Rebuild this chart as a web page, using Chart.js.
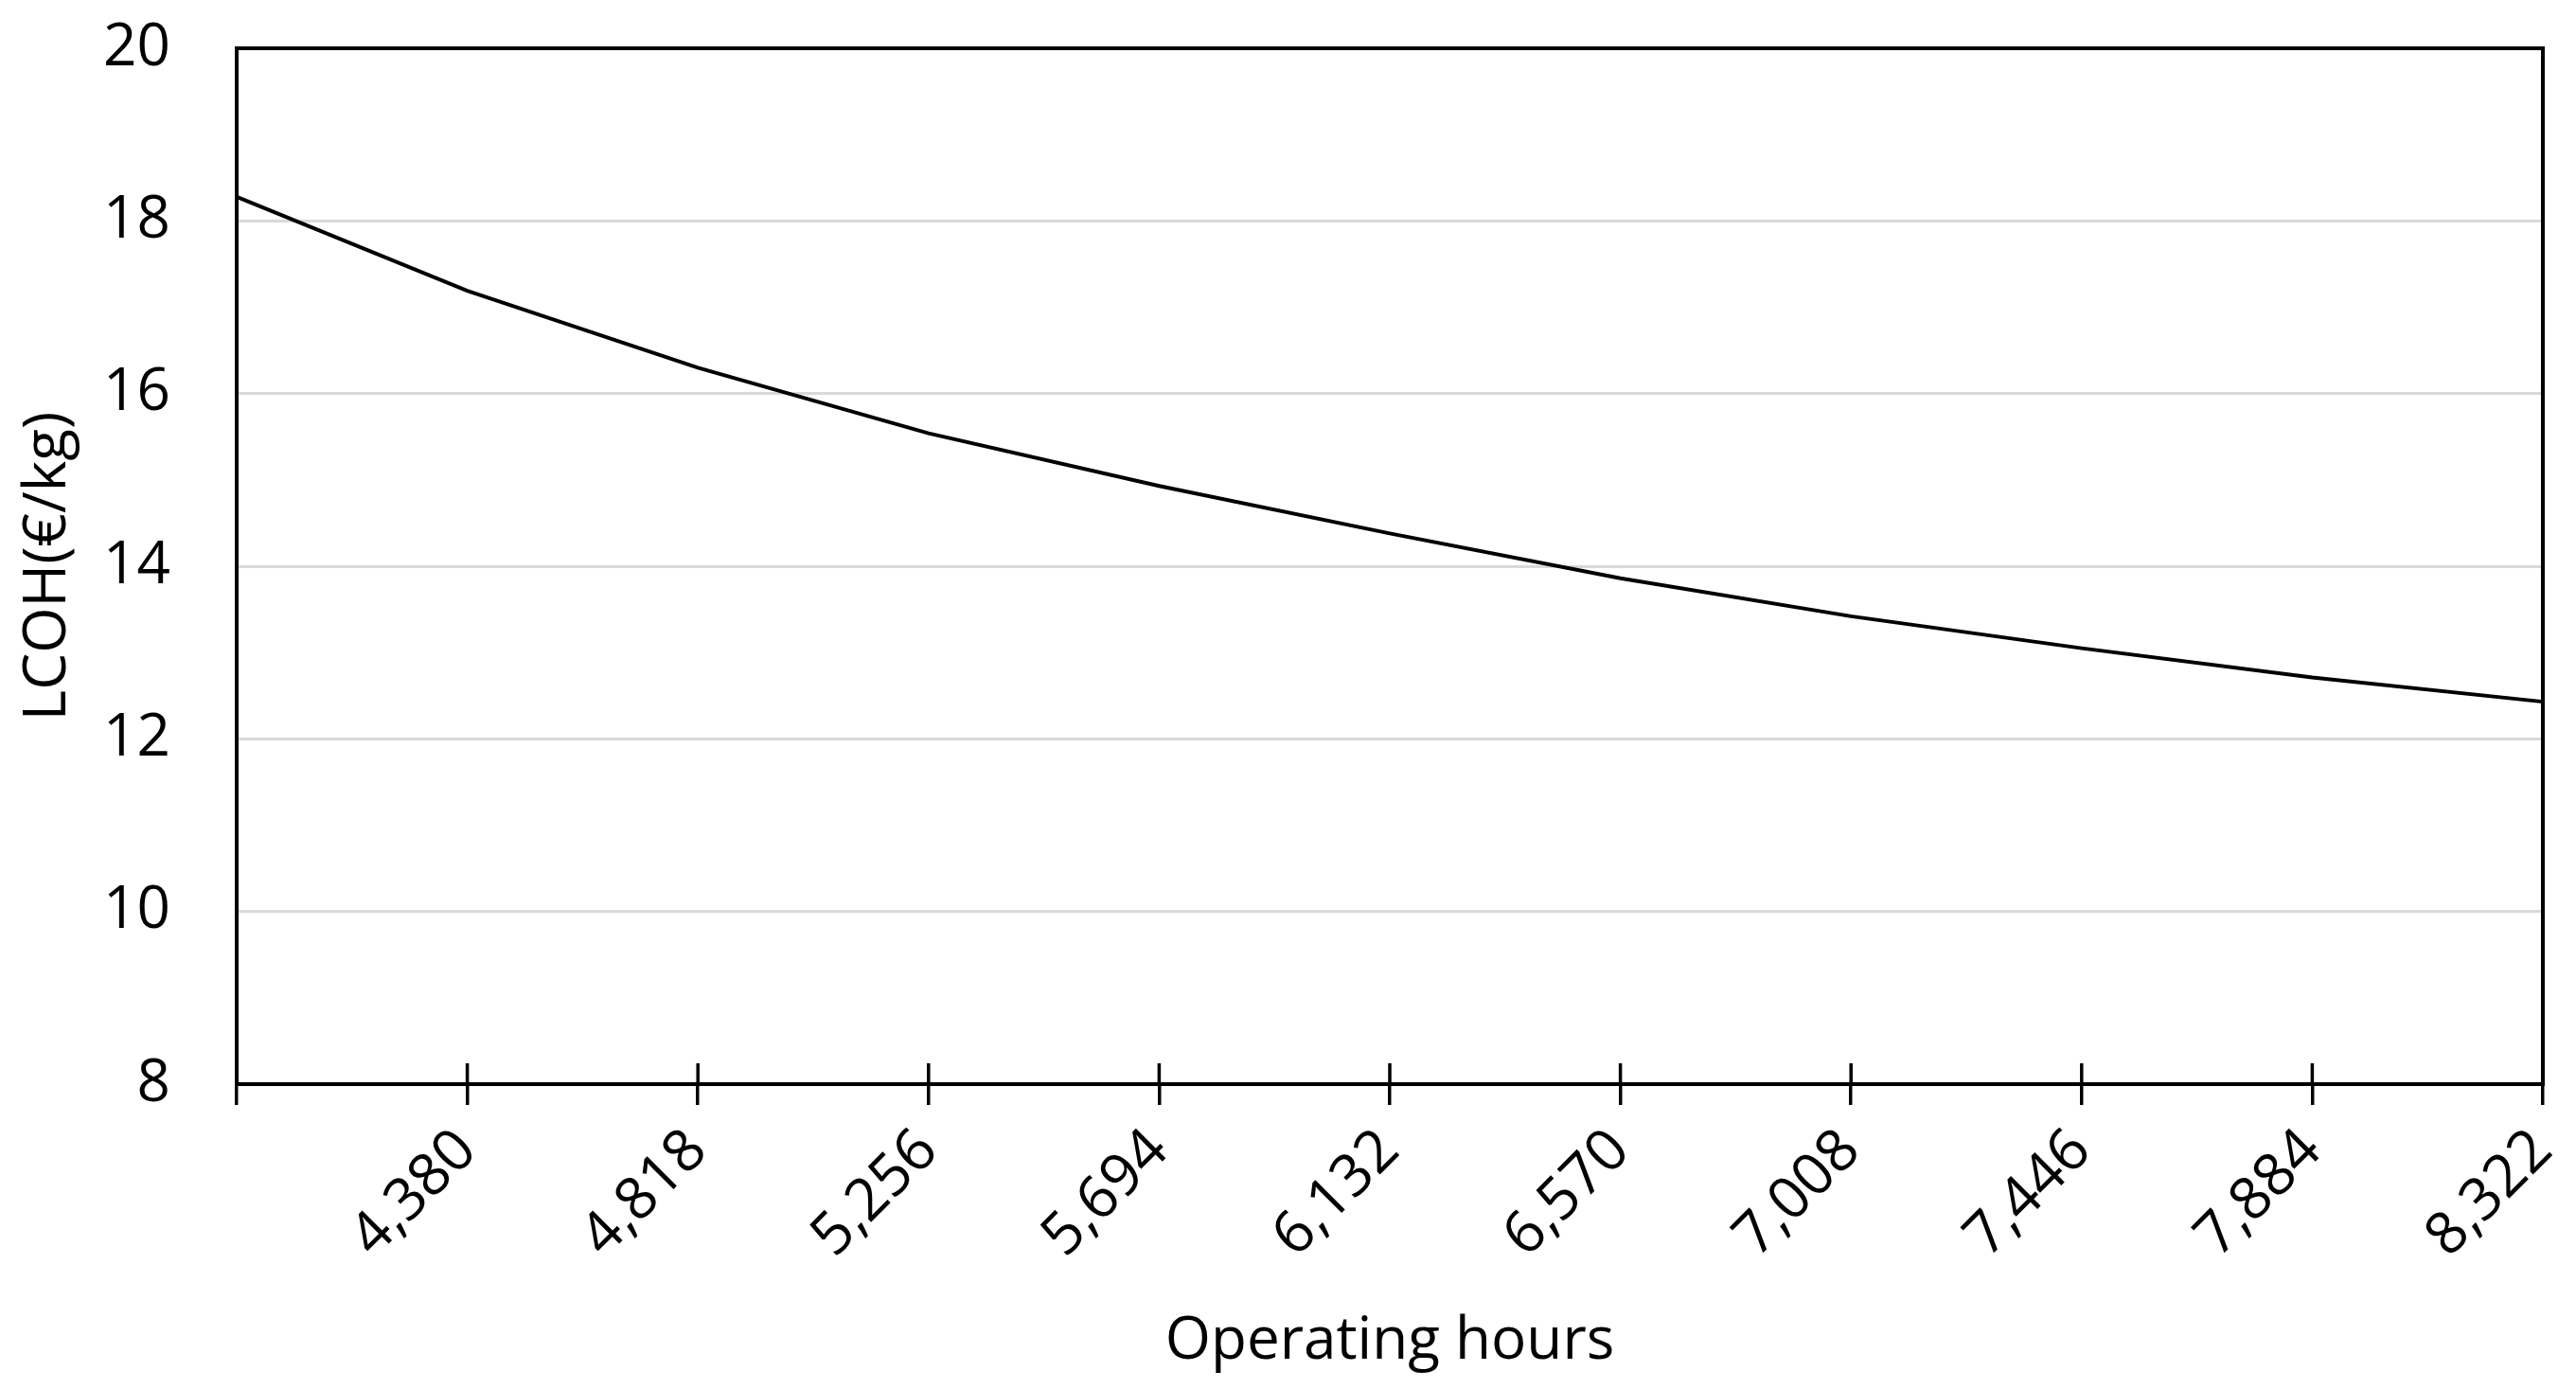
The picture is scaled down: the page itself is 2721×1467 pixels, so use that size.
<!DOCTYPE html>
<html>
<head>
<meta charset="utf-8">
<script src="https://cdn.jsdelivr.net/npm/chart.js@4/dist/chart.umd.min.js"></script>
<style>
  html, body { margin: 0; padding: 0; background: #ffffff; }
  #wrap { width: 2721px; height: 1467px; }
</style>
</head>
<body>
<div id="wrap"><canvas id="c" width="2721" height="1467"></canvas></div>
<script>
// ---- data ----
const hours = [3942, 4380, 4818, 5256, 5694, 6132, 6570, 7008, 7446, 7884, 8322];
const tickLabels = ['', '4,380', '4,818', '5,256', '5,694', '6,132', '6,570', '7,008', '7,446', '7,884', '8,322'];
const lcoh = [18.28, 17.19, 16.30, 15.54, 14.93, 14.38, 13.86, 13.42, 13.05, 12.71, 12.43];
const yMin = 8;
const yMax = 20;
const yStep = 2;
const xTitle = 'Operating hours';
const yTitle = 'LCOH(€/kg)';

const FONT = "'Open Sans', 'Noto Sans', sans-serif";
const FS = 62;

const frame = {
  id: 'frame',
  afterDraw(chart) {
    const ctx = chart.ctx;
    const a = chart.chartArea;
    const xs = chart.scales.x;
    ctx.save();
    ctx.strokeStyle = '#000000';
    ctx.lineWidth = 3.5;
    // inner half of the x tick marks
    xs.ticks.forEach((t, i) => {
      const px = xs.getPixelForTick(i);
      ctx.beginPath();
      ctx.moveTo(px, a.bottom);
      ctx.lineTo(px, a.bottom - 22);
      ctx.stroke();
    });
    // plot frame
    ctx.lineWidth = 4;
    ctx.strokeRect(a.left, a.top, a.right - a.left, a.bottom - a.top);
    ctx.restore();
  }
};

new Chart(document.getElementById('c'), {
  type: 'line',
  data: {
    labels: tickLabels,
    datasets: [{
      label: 'LCOH',
      data: lcoh,
      borderColor: '#000000',
      borderWidth: 4,
      pointRadius: 0,
      tension: 0,
      fill: false
    }]
  },
  options: {
    responsive: false,
    devicePixelRatio: 1,
    animation: false,
    layout: { padding: { top: 51, right: 35, left: 0, bottom: 0 } },
    plugins: { legend: { display: false }, tooltip: { enabled: false } },
    scales: {
      x: {
        type: 'category',
        offset: false,
        grid: {
          display: true,
          drawOnChartArea: false,
          drawTicks: true,
          tickLength: 22,
          color: '#000000',
          lineWidth: 3.5
        },
        border: { display: true, color: '#000000', width: 4 },
        ticks: {
          autoSkip: false,
          maxRotation: 45,
          minRotation: 45,
          padding: 12,
          color: '#000000',
          font: { family: FONT, size: FS }
        },
        title: {
          display: true,
          text: xTitle,
          color: '#000000',
          font: { family: FONT, size: FS },
          padding: { top: 0, bottom: 12 }
        },
        afterFit(scale) {
          scale.height = 322;
          scale.paddingLeft = 0;
          scale.paddingRight = 0;
        }
      },
      y: {
        min: yMin,
        max: yMax,
        ticks: {
          stepSize: yStep,
          padding: 70,
          color: '#000000',
          font: { family: FONT, size: FS }
        },
        grid: {
          drawTicks: false,
          lineWidth: 3,
          color: (c) => (c.tick && (c.tick.value === yMin || c.tick.value === yMax)) ? 'rgba(0,0,0,0)' : '#d9d9d9'
        },
        border: { display: true, color: '#000000', width: 4 },
        title: {
          display: true,
          text: yTitle,
          color: '#000000',
          font: { family: FONT, size: FS },
          padding: { top: 14, bottom: 0 }
        },
        afterFit(scale) {
          scale.width = 250;
          scale.paddingTop = 0;
          scale.paddingBottom = 0;
        }
      }
    }
  },
  plugins: [frame]
});
</script>
</body>
</html>
